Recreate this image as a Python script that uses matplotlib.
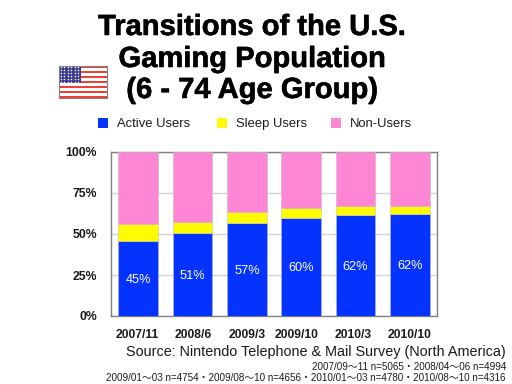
# -*- coding: utf-8 -*-
import numpy as np
import matplotlib
matplotlib.use("Agg")
import matplotlib.pyplot as plt
import matplotlib.patheffects as pe
from matplotlib.patches import Rectangle
from matplotlib.transforms import ScaledTranslation

plt.rcParams['font.family'] = ['Liberation Sans', 'Noto Sans CJK JP', 'DejaVu Sans']

# Data
dates = ["2007/11", "2008/6", "2009/3", "2009/10", "2010/3", "2010/10"]
active = [45.6, 50.7, 56.8, 60.0, 61.7, 62.3]
sleep = [10.6, 6.7, 6.7, 5.9, 5.4, 4.8]
non_users = [43.8, 42.6, 36.5, 34.1, 32.9, 32.9]
active_labels = ["45%", "51%", "57%", "60%", "62%", "62%"]
y_ticks = [0, 25, 50, 75, 100]
y_labels = ["0%", "25%", "50%", "75%", "100%"]
series_names = ["Active Users", "Sleep Users", "Non-Users"]
series_colors = ["#0433ff", "#fffb00", "#ff85d5"]

W, H = 512.0, 384.0
fig = plt.figure(figsize=(5.12, 3.84), dpi=100, facecolor="white")

def px(x, y):
    return x / W, 1 - y / H

def put(x, y, s, **kw):
    fx, fy = px(x, y)
    return fig.text(fx, fy, s, **kw)

# Chart
ax = fig.add_axes([111 / W, 1 - 316 / H, 326 / W, 164 / H])
xs = np.arange(len(dates))
bot2 = np.array(active) + np.array(sleep)
ax.bar(xs, active, width=0.73, color=series_colors[0], edgecolor="#b8b8c8", linewidth=0.4, zorder=3)
ax.bar(xs, sleep, width=0.73, bottom=active, color=series_colors[1], edgecolor="#c8c8a0", linewidth=0.4, zorder=3)
ax.bar(xs, non_users, width=0.73, bottom=bot2, color=series_colors[2], edgecolor="#c8b8c8", linewidth=0.4, zorder=3)
ax.set_xlim(-0.5, 5.5)
ax.set_ylim(0, 100)
ax.set_yticks(y_ticks)
ax.set_yticklabels(y_labels, fontsize=8.8, fontweight="bold", color="#1a1a1a")
ax.set_xticks(xs)
ax.set_xticklabels(dates, fontsize=8.7, fontweight="bold", color="#1a1a1a")
ax.tick_params(length=0)
ax.tick_params(axis="y", pad=10)
ax.tick_params(axis="x", pad=9.5)
# the two middle date labels sit left of their bars in the original
for lab, shift in zip(ax.get_xticklabels(), [-1, 1, 0, -5, -2, 0]):
    lab.set_transform(lab.get_transform() + ScaledTranslation(shift / 100, 0, fig.dpi_scale_trans))
ax.yaxis.grid(True, color="#d4d4d4", linewidth=1.0, zorder=0)
for s in ax.spines.values():
    s.set_color("#808080")
    s.set_linewidth(1.0)
for i, lab in enumerate(active_labels):
    ax.text(xs[i], active[i] / 2, lab, ha="center", va="center_baseline", color="white", fontsize=9.2, zorder=5)

# Title
title_lines = ["Transitions of the U.S.", "Gaming Population", "(6 - 74 Age Group)"]
for yy, line in zip([27, 59, 90], title_lines):
    t = put(252, yy, line, ha="center", va="center", fontsize=21, fontweight="bold", color="black")
    t.set_path_effects([pe.withStroke(linewidth=0.4, foreground="black")])

# Legend
for x0, name, col in zip([98, 217, 331], series_names, series_colors):
    fx, fy = px(x0, 128)
    fig.add_artist(Rectangle((fx, fy), 10 / W, 10 / H, transform=fig.transFigure, facecolor=col, edgecolor="none"))
    put(x0 + 19, 127, name, ha="left", va="baseline", fontsize=9.4, color="#1a1a1a")

# Flag
fl = fig.add_axes([59 / W, 1 - 98 / H, 48 / W, 32 / H])
fl.set_xlim(0, 19)
fl.set_ylim(13, 0)
fl.set_xticks([])
fl.set_yticks([])
for i in range(13):
    fl.add_patch(Rectangle((0, i), 19, 1, facecolor="#ee4035" if i % 2 == 0 else "white", edgecolor="none"))
fl.add_patch(Rectangle((0, 0), 8.8, 7, facecolor="#3c3b8e", edgecolor="none", zorder=2))
sx, sy = np.meshgrid(np.arange(0.6, 8.8, 1.4), np.arange(0.6, 7, 1.15))
fl.scatter(sx.ravel(), sy.ravel(), s=1.2, color="white", linewidths=0, zorder=3)
for s in fl.spines.values():
    s.set_color("#808080")
    s.set_linewidth(0.8)

# Source and sample sizes
put(506, 352, "Source: Nintendo Telephone & Mail Survey (North America)", ha="right", va="center", fontsize=10.4, color="#1a1a1a")
put(506, 367, "2007/09～11 n=5065・2008/04～06 n=4994", ha="right", va="center", fontsize=7.1, color="#1a1a1a")
put(506, 378, "2009/01～03 n=4754・2009/08～10 n=4656・2010/01～03 n=4780・2010/08～10 n=4316", ha="right", va="center", fontsize=7.1, color="#1a1a1a")

fig.savefig("out.png", dpi=100)
